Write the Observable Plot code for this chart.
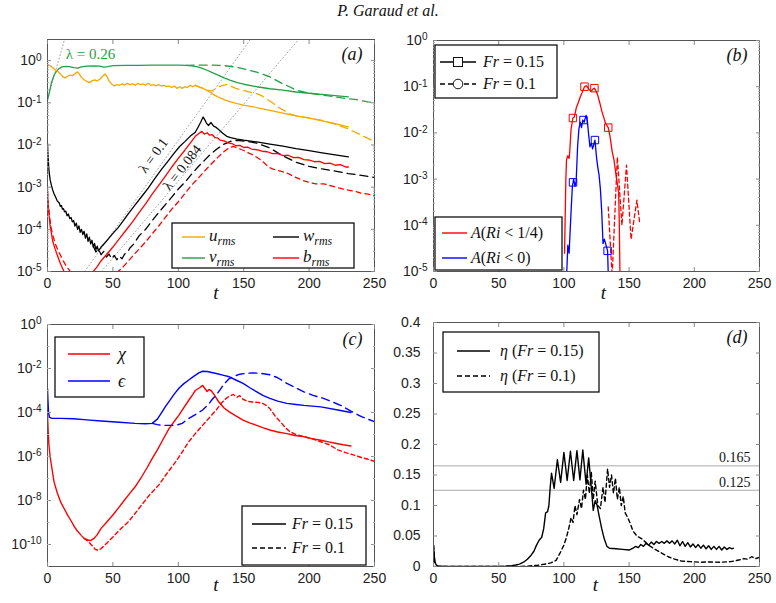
<!DOCTYPE html>
<html>
<head>
<meta charset="utf-8">
<script src="https://cdn.jsdelivr.net/npm/d3@7"></script>
<script src="https://cdn.jsdelivr.net/npm/@observablehq/plot@0.6"></script>
<style>
  body { margin: 0; background: #fff; }
  #fig { position: relative; width: 776px; height: 603px; overflow: hidden; background: #fff; }
  #title { position: absolute; left: 0; top: 2px; width: 776px; text-align: center;
           font: italic 16px "Liberation Serif", "Times New Roman", serif; color: #111; }
</style>
</head>
<body>
<div id="fig"><div id="title">P. Garaud et al.</div></div>
<script>
// ---------- shared ----------
const tTicks = [0, 50, 100, 150, 200, 250];
const SANS = '"Liberation Sans", Arial, sans-serif';
const SERIF = '"Liberation Serif", "Times New Roman", serif';
const ORANGE = "#f7a800", GREEN = "#23a146", RED = "#ff0000", BLUE = "#0000ff", BLACK = "#000";

// ---------- (a) rms velocities and buoyancy ----------
const uRmsFr015 = [[0,0.8],[2,0.76],[4,0.68],[6,0.6],[8,0.55],[10,0.47],[12,0.41],[13.5,0.39],[15,0.42],[17,0.45],[19,0.44],[21,0.49],[23,0.54],[24.5,0.47],[26,0.4],[28,0.35],[30,0.32],[32,0.3],[34,0.33],[36,0.35],[38,0.33],[40,0.36],[42,0.42],[44,0.48],[45.5,0.42],[47,0.33],[49,0.28],[51,0.25],[53,0.27],[55,0.26],[57,0.28],[59,0.26],[61,0.29],[63,0.27],[65,0.28],[67,0.26],[69,0.29],[71,0.27],[73,0.28],[75,0.26],[77,0.29],[79,0.26],[81,0.27],[83,0.25],[85,0.27],[87,0.25],[89,0.26],[91,0.24],[93,0.25],[95,0.23],[97,0.25],[99,0.22],[101,0.24],[103,0.22],[105,0.24],[107,0.23],[109,0.26],[111,0.24],[113,0.26],[115,0.24],[117,0.23],[120,0.21],[124,0.18],[128,0.15],[132,0.13],[136,0.115],[140,0.105],[145,0.095],[150,0.088],[160,0.077],[170,0.066],[180,0.057],[190,0.049],[200,0.043],[210,0.037],[220,0.032],[230,0.027]];
const uRmsFr010 = [[113,0.26],[116,0.24],[119,0.22],[122,0.2],[125,0.19],[128,0.21],[131,0.24],[134,0.26],[137,0.27],[140,0.25],[144,0.22],[148,0.2],[152,0.19],[156,0.175],[160,0.165],[164,0.145],[168,0.12],[172,0.1],[176,0.08],[180,0.068],[185,0.055],[190,0.049],[200,0.044],[210,0.038],[220,0.031],[230,0.024],[240,0.017],[250,0.012]];
const vRmsFr015 = [[0,0.115],[1.5,0.18],[3,0.3],[5,0.45],[7,0.57],[9,0.65],[11,0.71],[14,0.73],[17,0.72],[20,0.68],[23,0.66],[26,0.71],[30,0.74],[35,0.75],[40,0.74],[43,0.7],[46,0.72],[50,0.76],[60,0.77],[70,0.77],[80,0.78],[90,0.78],[100,0.78],[106,0.77],[110,0.75],[114,0.72],[118,0.66],[122,0.59],[126,0.52],[130,0.46],[135,0.39],[140,0.34],[145,0.3],[150,0.275],[160,0.24],[170,0.215],[180,0.2],[190,0.18],[200,0.168],[210,0.158],[220,0.148],[230,0.138]];
const vRmsFr010 = [[106,0.77],[115,0.78],[125,0.78],[135,0.76],[144,0.7],[150,0.64],[155,0.58],[160,0.53],[165,0.47],[170,0.41],[175,0.34],[180,0.28],[185,0.24],[190,0.2],[196,0.18],[205,0.16],[215,0.145],[225,0.13],[235,0.12],[245,0.105],[250,0.1]];
const wRmsFr015 = [[0,0.011],[0.4,0.006],[0.8,0.0035],[1.3,0.0022],[2,0.0015],[3,0.0011],[4,0.00085],[5,0.0007],[6,0.0006],[7.5,0.00047],[9,0.00042],[9.8,0.00035],[10.6,0.00037],[11.4,0.0003],[12.2,0.00031],[13,0.00026],[14,0.00027],[15,0.00021],[16,0.00023],[17,0.00018],[18,0.00019],[19,0.00015],[20,0.00016],[21,0.00012],[22,0.00014],[23,0.0001],[24,0.00012],[25,0.000085],[26,0.0001],[27,0.000075],[28,0.00009],[29,0.000062],[30,0.000078],[31,0.000052],[32,0.000065],[33,0.000045],[34,0.000055],[35,0.000038],[36,0.000046],[37,0.000033],[38,0.00004],[39,0.000031],[41,0.000038],[44,0.000048],[47,0.000062],[50,0.00008],[54,0.00011],[58,0.00016],[62,0.00024],[67,0.00038],[72,0.0006],[77,0.00095],[82,0.0016],[87,0.0026],[92,0.0041],[97,0.0065],[101,0.0092],[105,0.012],[109,0.016],[113,0.02],[115,0.026],[117,0.034],[119,0.046],[120,0.041],[121.5,0.033],[123,0.029],[125,0.034],[127,0.028],[129,0.026],[131,0.023],[134,0.019],[137,0.016],[140,0.015],[145,0.0138],[150,0.013],[160,0.0118],[170,0.0105],[180,0.0094],[190,0.0082],[200,0.0073],[210,0.0065],[220,0.0058],[230,0.0052]];
const wRmsFr010 = [[35,0.00004],[37,0.000029],[39,0.000034],[41,0.000025],[43,0.00003],[45,0.000022],[47,0.000026],[49,0.00002],[51,0.000024],[53,0.000019],[55,0.000023],[57,0.00002],[59,0.000026],[61,0.000028],[63,0.000036],[66,0.000045],[70,0.00007],[75,0.0001],[80,0.00016],[85,0.00025],[90,0.00038],[95,0.00058],[100,0.0009],[105,0.0013],[110,0.002],[115,0.003],[120,0.0043],[125,0.0062],[130,0.0082],[135,0.0105],[140,0.0122],[145,0.0128],[150,0.0123],[155,0.0118],[160,0.011],[170,0.0085],[180,0.0055],[190,0.0039],[200,0.0031],[210,0.0027],[220,0.0024],[230,0.0021],[240,0.0019],[250,0.0017]];
const bRmsFr015 = [[0,0.0008],[0.5,0.0004],[1,0.00025],[2,0.00012],[3,0.00008],[4,0.000052],[6,0.000033],[8,0.000022],[10,0.000015],[12,0.000011],[14,0.000008],[18,0.000004],[26,0.000003],[32,0.000006],[35,0.00001],[38,0.000013],[41,0.000018],[45,0.000025],[50,0.000038],[55,0.00006],[60,0.000095],[65,0.00015],[70,0.00025],[75,0.0004],[80,0.00068],[85,0.0011],[90,0.0018],[95,0.003],[100,0.0048],[105,0.0075],[110,0.012],[113,0.016],[116,0.019],[118,0.021],[120,0.018],[122,0.0195],[124,0.017],[126,0.0175],[128,0.015],[130,0.0148],[132,0.013],[135,0.0125],[138,0.0112],[141,0.0108],[144,0.0096],[147,0.0098],[150,0.0087],[153,0.0089],[156,0.008],[160,0.0077],[164,0.0071],[168,0.0069],[172,0.0062],[176,0.0063],[180,0.0056],[184,0.0057],[188,0.005],[192,0.0051],[196,0.0045],[200,0.0044],[204,0.004],[208,0.0041],[212,0.0036],[216,0.0037],[220,0.0033],[224,0.0034],[228,0.003],[230,0.003]];
const bRmsFr010 = [[0,0.0008],[0.5,0.00045],[1,0.0003],[2,0.00016],[3,0.0001],[4.5,0.000065],[6,0.000045],[8,0.000032],[10,0.000024],[12,0.000018],[14,0.000014],[16,0.0000115],[18,0.0000095],[20,0.000008],[30,0.000003],[48,0.000004],[54,0.00001],[58,0.000013],[62,0.000018],[66,0.000025],[70,0.000034],[75,0.00005],[80,0.000078],[85,0.00012],[90,0.00019],[95,0.0003],[100,0.00045],[105,0.0007],[110,0.0011],[115,0.0016],[120,0.0024],[125,0.0035],[130,0.005],[134,0.0066],[138,0.0082],[142,0.0093],[145,0.0085],[148,0.0078],[151,0.0072],[154,0.0064],[157,0.0058],[160,0.0051],[163,0.0044],[166,0.0037],[169,0.003],[172,0.0027],[176,0.0025],[180,0.0023],[184,0.0021],[188,0.0018],[192,0.0016],[196,0.0014],[200,0.0013],[205,0.0012],[211,0.0012],[218,0.00105],[225,0.00092],[230,0.00085],[235,0.0008],[240,0.00072],[245,0.00068],[250,0.00063]];
// exponential growth guides, endpoints [t, amplitude]
const guideL026 = [[0,0.12],[13,3.16]];
const guideL010 = [[28.4,1e-5],[155,3.16]];
const guideL0084 = [[41.2,1e-5],[192,3.16]];

// ---------- (b) area fractions ----------
const riQuarterFr015 = [[100.5,2.5e-5],[101.5,1e-3],[102,2.6e-3],[103,3.2e-3],[104,2.8e-3],[104.5,4e-3],[105.5,0.012],[106.9,0.021],[108,0.022],[109.5,0.035],[111,0.045],[112.5,0.06],[114,0.075],[115.8,0.1],[117,0.105],[118.5,0.095],[119.6,0.085],[121,0.08],[122.5,0.09],[123.4,0.093],[124.5,0.082],[126,0.065],[127.5,0.045],[129,0.03],[130.5,0.022],[132,0.016],[134,0.013],[135.5,0.008],[137,0.004],[138.5,0.0025],[140,0.0012],[141,0.0008],[142,5e-4],[142.5,1e-4],[143,8e-6]];
const riZeroFr015 = [[101.8,5e-6],[103,3.7e-5],[104,2.5e-5],[104.5,5e-5],[105.5,2e-4],[106.5,7e-4],[107.5,1e-3],[108.5,7e-4],[109.4,9e-4],[110.5,5e-3],[111.5,0.012],[112.5,0.017],[113.5,0.013],[114.5,0.019],[115.5,0.017],[117,0.024],[118,0.018],[119,0.009],[120,0.005],[121,0.006],[122,0.0045],[123.8,0.007],[125,0.003],[126,0.0018],[127,0.0012],[128,6e-4],[129,2e-4],[130,4e-5],[131,5e-5],[132,4e-5],[133.5,2.8e-5],[134.5,3e-6]];
const riQuarterFr010 = [[134,2.5e-4],[137,8e-6],[141,3e-3],[144.5,1e-4],[148,2e-3],[151.5,5e-5],[156,3.5e-4],[158,1.2e-4]];
const riQuarterMarks = [[106.9,0.021],[115.8,0.1],[123.4,0.093],[134,0.013]];
const riZeroMarks = [[107,8.5e-4],[115,0.019],[123.8,0.007],[133.5,2.8e-5]];

// ---------- (c) dissipation rates ----------
const chiFr015 = [[0,8e-5],[0.5,1.5e-5],[1,4e-6],[2,1e-6],[3,4e-7],[5,7e-8],[7.5,2.2e-8],[10,8.7e-9],[13,4e-9],[15.5,2.1e-9],[18,1.2e-9],[20.6,6.3e-10],[23,4e-10],[25.8,2.6e-10],[28,1.9e-10],[31,1.6e-10],[33,1.5e-10],[36,2e-10],[38,2.8e-10],[41,5.4e-10],[45,1e-9],[50,2.2e-9],[54,4.4e-9],[58,9e-9],[62,1.8e-8],[67,4.2e-8],[72,1.2e-7],[76,3e-7],[80,8e-7],[84,2e-6],[88,5.5e-6],[93,1.9e-5],[97,4e-5],[100.5,7.6e-5],[104,1.6e-4],[108,3.6e-4],[111,6.5e-4],[113,1e-3],[116,1.3e-3],[118.6,1.7e-3],[120,1.3e-3],[122,9e-4],[123.5,1.1e-3],[125,1e-3],[127,7e-4],[131,3e-4],[135,1.6e-4],[139,1.07e-4],[144,7e-5],[149.5,4.5e-5],[155,3.3e-5],[160,2.6e-5],[165,2e-5],[170,1.6e-5],[176,1.3e-5],[183,1.1e-5],[189,9e-6],[196,8e-6],[202,6.5e-6],[209,5.5e-6],[215,4.6e-6],[220,4e-6],[226,3.4e-6],[232,3e-6]];
const chiFr010 = [[28,1.9e-10],[31,1.4e-10],[34,9e-11],[36.5,6e-11],[38.7,5.5e-11],[41,6.5e-11],[45,1.1e-10],[49,1.9e-10],[55,4.5e-10],[62,1.1e-9],[67,2.6e-9],[72,6.3e-9],[78,1.8e-8],[85,5e-8],[91,1.6e-7],[98,5.8e-7],[103,1.6e-6],[108,4.7e-6],[113,1.1e-5],[118.6,2.6e-5],[124,6e-5],[129,1.3e-4],[133,2.7e-4],[136.6,4.4e-4],[139,5.5e-4],[142,6.6e-4],[145,5e-4],[147,5.8e-4],[149.5,4e-4],[153,3.2e-4],[157,3e-4],[161,2.9e-4],[165,2.5e-4],[168,2e-4],[170,1.5e-4],[174,7e-5],[178,3.8e-5],[182,2e-5],[185.6,1.3e-5],[190,1e-5],[196,8e-6],[202,6.5e-6],[209,4.7e-6],[215,3.5e-6],[222,2e-6],[228,1.5e-6],[234.5,1.15e-6],[240,9e-7],[245,7.5e-7],[250,6e-7]];
const epsFr015 = [[0,1.2e-3],[0.3,4e-4],[0.8,1e-4],[1.5,6e-5],[3,5.5e-5],[10,5.4e-5],[20,5.2e-5],[30,4.6e-5],[41,4.1e-5],[55,3.6e-5],[67,3.2e-5],[75,3.1e-5],[80,3.2e-5],[84,5e-5],[87.6,1.07e-4],[90,1.8e-4],[93,3.2e-4],[97,7e-4],[100.5,1.26e-3],[104,2e-3],[108,3e-3],[112,4.5e-3],[116,6.5e-3],[118.6,7.5e-3],[122,7.3e-3],[129,5.9e-3],[134,5e-3],[139,4.2e-3],[144,3e-3],[149.5,2.1e-3],[155,1.3e-3],[160,8.7e-4],[165,5.8e-4],[170,4.4e-4],[176,3.3e-4],[183,2.6e-4],[190,2.3e-4],[196,2.1e-4],[209,1.8e-4],[222,1.3e-4],[232,1e-4]];
const epsFr010 = [[80,3.2e-5],[84,2.8e-5],[87.6,2.6e-5],[92,2.6e-5],[98,2.6e-5],[103,3.2e-5],[108,5.4e-5],[113,8e-5],[118.6,1.3e-4],[123,2.3e-4],[126,4e-4],[129,6.3e-4],[132,1.1e-3],[135,2e-3],[139,3.5e-3],[143,4.5e-3],[147,5.5e-3],[152,6.1e-3],[157,6.3e-3],[163,6e-3],[170,5.2e-3],[176,3.8e-3],[183,2.1e-3],[190,1.3e-3],[196,8.7e-4],[203,6e-4],[211,4.4e-4],[218,3e-4],[225,2e-4],[232,1.15e-4],[240,6.5e-5],[250,3.8e-5]];

// ---------- (d) mixing efficiency ----------
const etaFr015 = [[0,0.035],[0.5,0.02],[1,0.008],[2,0.003],[3,0.001],[5,0.0003],[10,0],[20,0],[30,0],[40,0],[50,0.0002],[55,0.0006],[60,0.0015],[63,0.0025],[66,0.004],[69,0.007],[72,0.012],[75,0.019],[77,0.025],[79,0.035],[81,0.043],[83,0.048],[84.5,0.062],[86,0.088],[87.5,0.09],[88.5,0.1],[89.5,0.13],[90.5,0.153],[92.5,0.128],[95,0.175],[97.5,0.138],[100,0.187],[102.5,0.141],[105,0.189],[107.5,0.141],[110,0.19],[112.3,0.142],[114.5,0.191],[117,0.135],[119,0.178],[121,0.13],[122.5,0.092],[124,0.108],[125.5,0.1],[127,0.083],[129,0.062],[131,0.045],[133,0.033],[135,0.03],[140,0.029],[145,0.028],[150,0.027],[153,0.03],[155,0.033],[157,0.031],[159,0.036],[161,0.033],[163,0.038],[165,0.035],[167,0.04],[169,0.036],[171,0.041],[173,0.038],[175,0.041],[177,0.038],[179,0.042],[181,0.038],[183,0.042],[185,0.037],[187,0.043],[189,0.034],[191,0.041],[193,0.033],[195,0.039],[197,0.032],[199,0.037],[201,0.031],[203,0.036],[205,0.03],[207,0.035],[209,0.029],[211,0.034],[213,0.028],[215,0.033],[217,0.028],[219,0.033],[221,0.027],[223,0.032],[225,0.028],[227,0.031],[229,0.029],[230,0.03]];
const etaFr010 = [[0,0.035],[0.5,0.02],[1,0.008],[2,0.003],[3,0.001],[5,0.0003],[10,0],[40,0],[60,0],[70,0.0003],[80,0.002],[86,0.004],[90,0.006],[94,0.01],[97,0.022],[100,0.035],[102,0.048],[104,0.065],[105.5,0.08],[107,0.072],[108.5,0.1],[110,0.085],[112,0.11],[113.5,0.095],[115,0.125],[116.5,0.11],[118,0.15],[119.5,0.12],[121,0.155],[122.5,0.11],[124,0.14],[126,0.1],[128,0.095],[130,0.13],[131.5,0.105],[133.5,0.16],[135,0.13],[136.5,0.15],[138,0.12],[139.5,0.145],[141,0.11],[142.5,0.13],[144,0.1],[145.5,0.115],[147,0.088],[149,0.08],[151,0.07],[153,0.058],[156,0.05],[160,0.045],[165,0.035],[170,0.028],[175,0.022],[180,0.016],[185,0.012],[190,0.009],[197,0.008],[205,0.007],[212,0.0075],[220,0.007],[228,0.008],[235,0.011],[238,0.013],[241,0.012],[244,0.016],[247,0.013],[250,0.015]];
const etaLevels = [0.165, 0.125];

// ---------- helpers ----------
const fig = document.getElementById("fig");
const X = d => d[0], Y = d => d[1];
const decadeTicks = (lo, hi, step = 1) => d3.range(lo, hi + 1, step).map(k => 10 ** k);
const minorLogTicks = (lo, hi) => d3.range(lo, hi).flatMap(k => d3.range(2, 10).map(m => m * 10 ** k));
const logLabel = d => "10^" + Math.round(Math.log10(d));
const blank = () => "";

function curve(data, stroke, dash, width = 1.3) {
  return Plot.line(data, {x: X, y: Y, stroke, strokeWidth: width, strokeDasharray: dash, clip: true});
}

function panel({left, top, width, height, margin, y, yTicks, yMinor, yFormat, yPad = 6, letter, tDx = 5, tDy = 26, marks}) {
  const [mt, mr, mb, ml] = margin;
  const svg = Plot.plot({
    width, height,
    marginTop: mt, marginRight: mr, marginBottom: mb, marginLeft: ml,
    style: {fontFamily: SANS, fontSize: "14px", color: "#222", background: "none", overflow: "visible"},
    x: {domain: [0, 250]},
    y,
    marks: [
      ...marks,
      Plot.frame({stroke: "#555", strokeWidth: 1}),
      Plot.axisX({ticks: tTicks, tickSize: 0, tickPadding: 7, label: null}),
      Plot.axisX({ticks: tTicks, tickSize: -4, tickFormat: blank, label: null, stroke: "#888"}),
      Plot.axisX({ticks: tTicks, anchor: "top", tickSize: -4, tickFormat: blank, label: null, stroke: "#888"}),
      Plot.axisY({ticks: yTicks, tickFormat: yFormat, tickSize: 0, tickPadding: yPad, label: null}),
      Plot.axisY({ticks: yTicks, tickSize: -4, tickFormat: blank, label: null, stroke: "#888"}),
      Plot.axisY({ticks: yTicks, anchor: "right", tickSize: -4, tickFormat: blank, label: null, stroke: "#888"}),
      ...(yMinor ? [
        Plot.axisY({ticks: yMinor, tickSize: -2, tickFormat: blank, label: null, stroke: "#aaa"}),
        Plot.axisY({ticks: yMinor, anchor: "right", tickSize: -2, tickFormat: blank, label: null, stroke: "#aaa"})
      ] : []),
      Plot.text([letter], {text: d => d, frameAnchor: "top-right", dx: -12, dy: 8, lineAnchor: "top",
        fontFamily: SERIF, fontStyle: "italic", fontSize: 18, fill: "#111"}),
      Plot.text(["t"], {text: d => d, frameAnchor: "bottom", dx: tDx, dy: tDy,
        fontFamily: SERIF, fontStyle: "italic", fontSize: 19, fill: "#111"})
    ]
  });
  // power-of-ten labels: raise the exponent
  d3.select(svg).selectAll("text").each(function () {
    const s = this.textContent;
    if (!s.startsWith("10^")) return;
    const exp = s.slice(3);
    const t = d3.select(this).text(null);
    t.append("tspan").text("10");
    t.append("tspan").attr("dy", "-0.45em").attr("font-size", "0.72em").text(exp);
  });
  Object.assign(svg.style, {position: "absolute", left: left + "px", top: top + "px"});
  fig.append(svg);
}

// ---------- (a) ----------
panel({
  left: 0, top: 25, width: 388, height: 280, margin: [14, 14, 34, 47],
  y: {type: "log", domain: [1e-5, 10 ** 0.5]},
  yTicks: decadeTicks(-5, 0), yMinor: minorLogTicks(-5, 0), yFormat: logLabel,
  letter: "(a)", tDx: 5, tDy: 27,
  marks: [
    curve(guideL026, "#9a9a9a", "1,2.5", 0.9),
    curve(guideL010, "#9a9a9a", "1,2.5", 0.9),
    curve(guideL0084, "#9a9a9a", "1,2.5", 0.9),
    curve(vRmsFr015, GREEN), curve(vRmsFr010, GREEN, "8,5"),
    curve(uRmsFr015, ORANGE), curve(uRmsFr010, ORANGE, "8,5"),
    curve(wRmsFr015, BLACK), curve(wRmsFr010, BLACK, "8,5"),
    curve(bRmsFr015, RED), curve(bRmsFr010, RED, "5,4"),
    Plot.text(["λ = 0.26"], {text: d => d, x: 14, y: 1.45, textAnchor: "start", fill: GREEN, fontFamily: SERIF, fontSize: 15}),
    Plot.text(["λ = 0.1"], {text: d => d, x: 81, y: 5.6e-3, rotate: -54, fill: "#111", fontFamily: SERIF, fontSize: 14}),
    Plot.text(["λ = 0.084"], {text: d => d, x: 103, y: 2.9e-3, rotate: -52, fill: "#111", fontFamily: SERIF, fontSize: 14})
  ]
});

// ---------- (b) ----------
panel({
  left: 388, top: 25, width: 388, height: 280, margin: [15, 17, 34, 45],
  y: {type: "log", domain: [1e-5, 1]},
  yTicks: decadeTicks(-5, 0), yMinor: minorLogTicks(-5, 0), yFormat: logLabel,
  letter: "(b)", tDx: 7, tDy: 27,
  marks: [
    curve(riQuarterFr010, RED, "4,3"),
    curve(riQuarterFr015, RED), curve(riZeroFr015, BLUE),
    Plot.dot(riQuarterMarks, {x: X, y: Y, symbol: "square", r: 4.2, stroke: RED, fill: "none", strokeWidth: 1}),
    Plot.dot(riZeroMarks, {x: X, y: Y, symbol: "square", r: 4.2, stroke: BLUE, fill: "none", strokeWidth: 1})
  ]
});

// ---------- (c) ----------
panel({
  left: 0, top: 305, width: 388, height: 298, margin: [19, 14, 37, 47],
  y: {type: "log", domain: [1e-11, 1]},
  yTicks: decadeTicks(-10, 0, 2), yMinor: decadeTicks(-11, 0), yFormat: logLabel,
  letter: "(c)", tDx: 5, tDy: 24,
  marks: [
    curve(chiFr015, RED, null, 1.4), curve(chiFr010, RED, "4,3", 1.4),
    curve(epsFr015, BLUE, null, 1.4), curve(epsFr010, BLUE, "8,5", 1.4)
  ]
});

// ---------- (d) ----------
panel({
  left: 388, top: 305, width: 388, height: 298, margin: [17, 17, 37, 45],
  y: {domain: [0, 0.4]},
  yTicks: d3.range(0, 0.401, 0.05), yPad: 13,
  yFormat: d => (d === 0 ? "0" : String(Math.round(d * 100) / 100)),
  letter: "(d)", tDx: -1, tDy: 24,
  marks: [
    Plot.ruleY(etaLevels, {stroke: "#aaa", strokeWidth: 1}),
    Plot.text(etaLevels, {x: 250, y: d => d, text: d => String(d), dx: -9, dy: -8, textAnchor: "end",
      fontFamily: SERIF, fontSize: 14, fill: "#111"}),
    curve(etaFr015, BLACK, null, 1.4), curve(etaFr010, BLACK, "4,3", 1.4)
  ]
});

// ---------- legends ----------
const ov = d3.select(fig).append("svg")
  .attr("width", 776).attr("height", 603)
  .style("position", "absolute").style("left", "0px").style("top", "0px").style("pointer-events", "none");

function box(x, y, w, h) {
  ov.append("rect").attr("x", x).attr("y", y).attr("width", w).attr("height", h)
    .attr("fill", "#fff").attr("stroke", "#111").attr("stroke-width", 1.3);
}
function sample(x1, x2, y, color, dash) {
  ov.append("line").attr("x1", x1).attr("x2", x2).attr("y1", y).attr("y2", y)
    .attr("stroke", color).attr("stroke-width", 1.4).attr("stroke-dasharray", dash || null);
}
function label(x, y, parts, size = 16) {
  const t = ov.append("text").attr("x", x).attr("y", y).attr("dy", "0.32em")
    .attr("font-family", SERIF).attr("font-size", size).attr("fill", "#111");
  for (const [s, kind] of parts) {
    const sp = t.append("tspan").text(s);
    if (kind !== "n") sp.attr("font-style", "italic");
    if (kind === "sub") sp.attr("font-size", size * 0.7).attr("dy", "0.3em");
  }
}

// (a)
box(172, 223, 182, 45);
sample(182, 205, 237, ORANGE); label(209, 236, [["u", "i"], ["rms", "sub"]], 17);
sample(182, 205, 258, GREEN);  label(209, 257, [["v", "i"], ["rms", "sub"]], 17);
sample(273, 299, 237, BLACK);  label(303, 236, [["w", "i"], ["rms", "sub"]], 17);
sample(273, 299, 258, RED);    label(303, 257, [["b", "i"], ["rms", "sub"]], 17);

// (b)
box(435, 45, 122, 53);
sample(440, 476, 62, BLACK);
ov.append("rect").attr("x", 453.5).attr("y", 57.5).attr("width", 9).attr("height", 9).attr("fill", "#fff").attr("stroke", "#111");
label(483, 62, [["Fr", "i"], [" = 0.15", "n"]]);
sample(440, 476, 84, BLACK, "5,3");
ov.append("circle").attr("cx", 458).attr("cy", 84).attr("r", 4.8).attr("fill", "#fff").attr("stroke", "#111");
label(483, 84, [["Fr", "i"], [" = 0.1", "n"]]);
box(435, 217, 127, 53);
sample(442, 467, 233, RED);  label(471, 233, [["A", "i"], ["(", "n"], ["Ri", "i"], [" < 1/4)", "n"]]);
sample(442, 467, 258, BLUE); label(471, 258, [["A", "i"], ["(", "n"], ["Ri", "i"], [" < 0)", "n"]]);

// (c)
box(55, 337, 89, 60);
sample(68, 110, 354, RED);  label(118, 354, [["χ", "i"]], 18);
sample(68, 110, 381, BLUE); label(118, 381, [["ϵ", "i"]], 18);
box(242, 506, 124, 59);
sample(252, 286, 524, BLACK);        label(292, 524, [["Fr", "i"], [" = 0.15", "n"]]);
sample(252, 286, 548, BLACK, "5,3"); label(292, 548, [["Fr", "i"], [" = 0.1", "n"]]);

// (d)
box(443, 332, 156, 60);
sample(457, 490, 351, BLACK);        label(500, 351, [["η", "i"], [" (", "n"], ["Fr", "i"], [" = 0.15)", "n"]]);
sample(457, 490, 376, BLACK, "5,3"); label(500, 376, [["η", "i"], [" (", "n"], ["Fr", "i"], [" = 0.1)", "n"]]);
</script>
</body>
</html>
